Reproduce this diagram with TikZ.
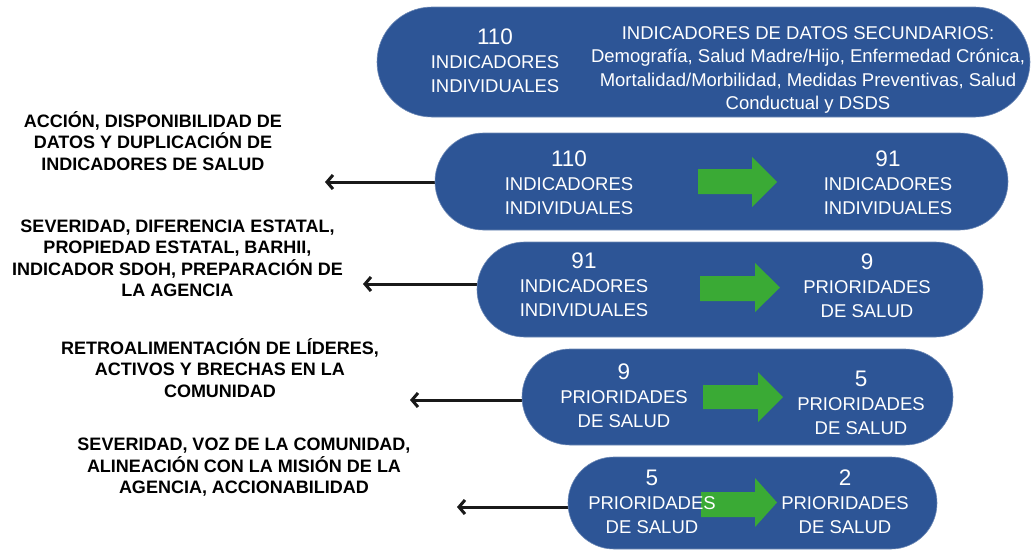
\documentclass[tikz,border=0pt]{standalone}
\usepackage{fontspec}
\setmainfont{Liberation Sans}
\usetikzlibrary{arrows.meta}
\definecolor{pillblue}{RGB}{45,85,150}
\definecolor{arrgreen}{RGB}{58,170,53}
\newcommand\numf{\fontsize{22.5}{24}\selectfont}
\tikzset{
  pill/.style={fill=pillblue, draw=pillblue!70!white, line width=0.6pt, inner sep=0pt},
  pilltxt/.style={text=white, align=center, inner sep=0pt, font=\fontsize{18.5}{24}\selectfont},
  lefttxt/.style={text=black, align=center, inner sep=0pt, font=\bfseries\fontsize{18}{21.5}\selectfont},
  backarrow/.style={line width=3pt, draw=black!90, -{Straight Barb[length=6pt,width=14pt,line width=3pt]}},
  greenarrow/.style={fill=arrgreen, draw=none}
}
\begin{document}
\begin{tikzpicture}[x=1pt, y=-1pt]
\useasboundingbox (0,0) rectangle (1031,550);

% black arrows (behind pills)
\coordinate (t1) at (325,182);
\coordinate (t2) at (363,284);
\coordinate (t3) at (410,400);
\coordinate (t4) at (457,507);
\coordinate (s1) at (470,182);
\coordinate (s2) at (510,284);
\coordinate (s3) at (560,400);
\coordinate (s4) at (600,507);
\draw[backarrow] (s1) -- (t1);
\draw[backarrow] (s2) -- (t2);
\draw[backarrow] (s3) -- (t3);
\draw[backarrow] (s4) -- (t4);

% pills
\node[pill, minimum width=653pt, minimum height=110pt, rounded corners=55pt] (p1) at (703.5,62) {};
\node[pill, minimum width=573pt, minimum height=97pt, rounded corners=48.5pt] (p2) at (721.5,181.5) {};
\node[pill, minimum width=506pt, minimum height=95pt, rounded corners=47.5pt] (p3) at (730,289.5) {};
\node[pill, minimum width=431pt, minimum height=96pt, rounded corners=48pt] (p4) at (737.5,397) {};
\node[pill, minimum width=369pt, minimum height=92pt, rounded corners=46pt] (p5) at (752.5,503) {};

% green arrows
\fill[greenarrow] (698,169) -- (752,169) -- (752,157) -- (777,182) -- (752,207) -- (752,194) -- (698,194) -- cycle;
\fill[greenarrow] (700,276) -- (755,276) -- (755,263) -- (780,287.5) -- (755,312) -- (755,301) -- (700,301) -- cycle;
\fill[greenarrow] (703,385) -- (758,385) -- (758,372) -- (783,397) -- (758,422) -- (758,409) -- (703,409) -- cycle;
\fill[greenarrow] (701,492) -- (755,492) -- (755,478) -- (777,502.5) -- (755,527) -- (755,517) -- (701,517) -- cycle;

% pill texts
\node[pilltxt] (a1) at (495,60.3) {{\numf 110}\\INDICADORES\\INDIVIDUALES};
\node[pilltxt, font=\fontsize{18.5}{23.3}\selectfont] (b1) at (808,70) {INDICADORES DE DATOS SECUNDARIOS:\\Demografía, Salud Madre/Hijo, Enfermedad Crónica,\\Mortalidad/Morbilidad, Medidas Preventivas, Salud\\Conductual y DSDS};
\node[pilltxt] (a2) at (569,182.3) {{\numf 110}\\INDICADORES\\INDIVIDUALES};
\node[pilltxt] (b2) at (888,182.3) {{\numf 91}\\INDICADORES\\INDIVIDUALES};
\node[pilltxt] (a3) at (584,284.3) {{\numf 91}\\INDICADORES\\INDIVIDUALES};
\node[pilltxt] (b3) at (867,285.3) {{\numf 9}\\PRIORIDADES\\DE SALUD};
\node[pilltxt] (a4) at (624,395.8) {{\numf 9}\\PRIORIDADES\\DE SALUD};
\node[pilltxt] (b4) at (861,403.3) {{\numf 5}\\PRIORIDADES\\DE SALUD};
\node[pilltxt] (a5) at (652,501.8) {{\numf 5}\\PRIORIDADES\\DE SALUD};
\node[pilltxt] (b5) at (845,501.3) {{\numf 2}\\PRIORIDADES\\DE SALUD};

% left texts
\node[lefttxt] (l1) at (153,141) {ACCIÓN, DISPONIBILIDAD DE\\DATOS Y DUPLICACIÓN DE\\INDICADORES DE SALUD};
\node[lefttxt] (l2) at (177.5,258.5) {SEVERIDAD, DIFERENCIA ESTATAL,\\PROPIEDAD ESTATAL, BARHII,\\INDICADOR SDOH, PREPARACIÓN DE\\LA AGENCIA};
\node[lefttxt] (l3) at (220,368) {RETROALIMENTACIÓN DE LÍDERES,\\ACTIVOS Y BRECHAS EN LA\\COMUNIDAD};
\node[lefttxt] (l4) at (244,467.5) {SEVERIDAD, VOZ DE LA COMUNIDAD,\\ALINEACIÓN CON LA MISIÓN DE LA\\AGENCIA, ACCIONABILIDAD};
\end{tikzpicture}
\end{document}
